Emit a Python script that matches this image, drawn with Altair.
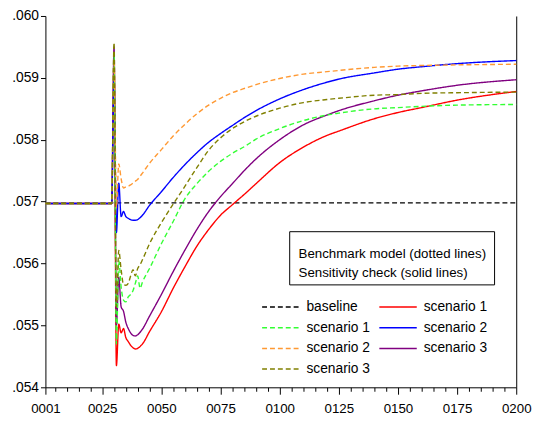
import altair as alt
import pandas as pd

# ---------------- data ----------------
periods = [1, 29, 30, 31, 32, 33, 34, 35, 36, 37, 38, 39, 40, 41, 42, 45, 50, 55,
           60, 65, 70, 75, 80, 86, 90, 100, 110, 120, 125, 140, 150, 160, 175, 200]

sens_s1 = [.05697, .05697, .0593, .05435, .05502, .05488, .05495, .0548, .05474, .05468,
           .05464, .05462, .05463, .05466, .0547, .0549, .05522, .0556, .05595, .05628,
           .05655, .05678, .05695, .05715, .05729, .05763, .05788, .05807, .05814, .05834,
           .05844, .05852, .05864, .05878]
sens_s2 = [.05697, .05697, .0590, .0565, .0573, .05676, .05684, .05676, .05673, .05671,
           .0567, .0567, .05671, .05674, .05678, .05694, .05716, .05739, .0576, .05779,
           .05796, .0581, .05823, .05838, .05847, .05866, .05881, .05893, .05898, .05908,
           .05914, .05918, .05923, .05928]
sens_s3 = [.05697, .05697, .0595, .0550, .05578, .0553, .05523, .05505, .05495, .05488,
           .05484, .05483, .05485, .05489, .05494, .05515, .0555, .05587, .05622, .05655,
           .05684, .05708, .05729, .05754, .05769, .058, .05824, .0584, .05847, .05863,
           .05872, .05879, .05888, .05897]
bench_s1 = [.05697, .05697, .0594, .0547, .05605, .05562, .05541, .05538, .05546, .0555,
            .05556, .05568, .0558, .0556, .0557, .05592, .05632, .05668, .05705, .05729,
            .05749, .05765, .05778, .05791, .05801, .05818, .05831, .0584, .05843, .0585,
            .05852, .05854, .05856, .05857]
bench_s2 = [.05697, .05697, .0593, .0569, .05761, .05737, .05722, .05724, .05725, .05727,
            .0573, .05733, .05736, .05741, .05746, .05762, .05784, .05806, .05825, .05842,
            .05856, .05867, .05876, .05884, .05889, .05899, .05906, .0591, .05912, .05917,
            .05919, .0592, .05921, .05922]
bench_s3 = [.05697, .05697, .05957, .0553, .05621, .0559, .05566, .05565, .05568, .0558,
            .0559, .0558, .05592, .05598, .05606, .05632, .05666, .05696, .05725, .05755,
            .05783, .05803, .05818, .05831, .05838, .05851, .0586, .05865, .05867, .05872,
            .05873, .05875, .05876, .05877]
baseline_periods = [1, 200]
baseline_values = [0.05698, 0.05698]

y_ticks = [0.054, 0.055, 0.056, 0.057, 0.058, 0.059, 0.060]
x_ticks = [1, 5, 10, 15, 20, 25, 30, 35, 40, 45, 50, 55, 60, 65, 70, 75, 80, 85, 90, 95,
           100, 105, 110, 115, 120, 125, 130, 135, 140, 145, 150, 155, 160, 165, 170,
           175, 180, 185, 190, 195, 200]

keys = ["B0", "B1", "B2", "B3", "S1", "S2", "S3"]
colors = ["#000000", "#33ff33", "#ff9933", "#808000", "#ff0000", "#0000ff", "#800080"]
dashes = [[5, 3], [5, 3], [5, 3], [5, 3], [1, 0], [1, 0], [1, 0]]
legend_title_lines = ["Benchmark model (dotted lines)", "Sensitivity check (solid lines)"]

# ---------------- table ----------------
rows = []
for p, v in zip(baseline_periods, baseline_values):
    rows.append({"key": "B0", "period": p, "value": v})
for key, vals in [("S1", sens_s1), ("S3", sens_s3), ("S2", sens_s2),
                  ("B1", bench_s1), ("B2", bench_s2), ("B3", bench_s3)]:
    for p, v in zip(periods, vals):
        rows.append({"key": key, "period": p, "value": v})
df = pd.DataFrame(rows)

FONT = "Liberation Sans"

xscale = alt.Scale(domain=[1, 200], nice=False, zero=False)
yscale = alt.Scale(domain=[0.054, 0.060], nice=False, zero=False)

xaxis = alt.Axis(
    title=None, values=x_ticks, grid=False,
    labelExpr="(datum.value == 1 || datum.value % 25 == 0) ? format(datum.value, '04d') : ''",
    tickSize={"condition": {"test": "datum.value == 1 || datum.value % 25 == 0", "value": 7}, "value": 4},
    labelOverlap=False, labelFlush=False, labelPadding=8,
    labelFont=FONT, labelFontSize=13.5, labelColor="black",
    domainColor="black", tickColor="black")

legend = alt.Legend(
    title=None, orient="none", legendX=219, legendY=285, columns=2,
    symbolType="stroke", symbolSize=1444, symbolStrokeWidth=1.5,
    labelFont=FONT, labelFontSize=14, labelColor="black", labelOffset=6,
    clipHeight=21, rowPadding=0, columnPadding=8, padding=0,
    labelExpr="datum.label == 'B0' ? 'baseline' : 'scenario ' + substring(datum.label, 1)",
)

lines = alt.Chart(df).mark_line(strokeWidth=1.4, interpolate="monotone").encode(
    x=alt.X("period:Q", scale=xscale, axis=xaxis),
    y=alt.Y("value:Q", scale=yscale, axis=alt.Axis(
        title=None, values=y_ticks, grid=False, tickSize=5,
        labelExpr="substring(format(datum.value, '.3f'), 1)",
        labelFlush=False, labelPadding=2, labelOverlap=False,
        labelFont=FONT, labelFontSize=14, labelColor="black",
        domainColor="black", tickColor="black")),
    color=alt.Color("key:N", scale=alt.Scale(domain=keys, range=colors), legend=legend),
    strokeDash=alt.StrokeDash("key:N", scale=alt.Scale(domain=keys, range=dashes), legend=legend),
)

right_axis = alt.Chart(df).mark_line(opacity=0).encode(
    x=alt.X("period:Q", scale=xscale, axis=xaxis),
    y=alt.Y("value:Q", scale=yscale, axis=alt.Axis(
        orient="right", title=None, labels=False, ticks=False, grid=False,
        domainColor="black")),
)

box = alt.Chart(alt.Data(values=[{}])).mark_rect(
    fill="white", stroke="black", strokeWidth=1
).encode(x=alt.value(248), x2=alt.value(456), y=alt.value(219), y2=alt.value(273))

texts = []
for i, line in enumerate(legend_title_lines):
    texts.append(alt.Chart(alt.Data(values=[{}])).mark_text(
        text=line, align="left", baseline="middle", font=FONT, fontSize=13.5, color="black"
    ).encode(x=alt.value(257), y=alt.value(242 + 18.5 * i)))

chart = alt.layer(lines, right_axis, box, *texts).resolve_axis(y="independent").properties(
    width=478, height=377,
    padding={"left": 38, "top": 5, "right": 16, "bottom": 25},
    autosize=alt.AutoSizeParams(type="none"),
).configure_view(stroke=None)

chart.save("out.html", embed_options={"renderer": "svg", "actions": False})
